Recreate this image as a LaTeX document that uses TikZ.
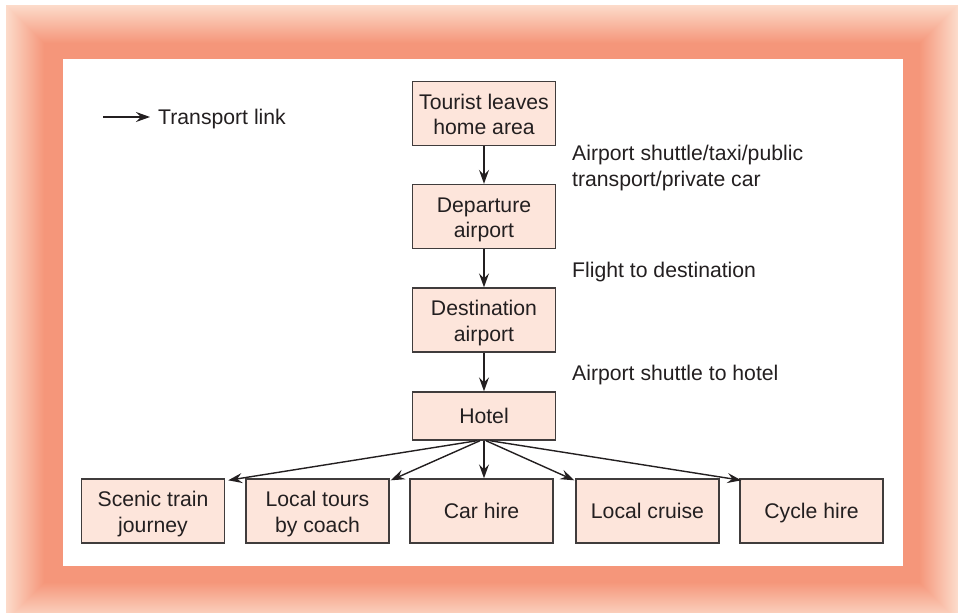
\documentclass[tikz,border=0pt]{standalone}
\usepackage{fontspec}
\setmainfont{Liberation Sans}
\usetikzlibrary{arrows.meta}
\definecolor{rimsalmon}{RGB}{245,150,122}
\definecolor{rimpeach}{RGB}{252,219,202}
\definecolor{boxfill}{RGB}{253,229,219}
\definecolor{boxline}{RGB}{64,60,60}
\definecolor{ink}{RGB}{35,31,32}
\tikzset{
  stage/.style={draw=boxline, line width=1.4pt, fill=boxfill, align=center,
    minimum width=143pt, minimum height=64pt, inner sep=2pt, text=ink,
    text height=15.2pt, text depth=0pt,
    font=\fontsize{21.2}{25.5}\selectfont},
  twoline/.style={text height=42.2pt},
  note/.style={anchor=west, align=left, inner sep=0pt, text=ink,
    font=\fontsize{21.2}{25.5}\selectfont},
  link/.style={draw=ink, line width=1.4pt,
    -{Stealth[length=14pt,width=10pt,inset=5pt]}},
}
\begin{document}
\begin{tikzpicture}[x=1pt,y=-1pt]
\useasboundingbox (0,0) rectangle (961,613);
% glowing frame: nested rectangles fading from peach to salmon
\foreach \i in {0,...,44}{
  \pgfmathsetmacro{\p}{min(100,\i*100/38)}
  \fill[rimsalmon!\p!rimpeach] (6+\i,5+\i) rectangle (958-\i,621-\i);
}
\fill[white] (63,59) rectangle (903,566);

% legend
\coordinate (legA) at (103,117);
\coordinate (legB) at (150,117);
\draw[link] (legA) -- (legB);
\node[note] (legtext) at (158,119) {Transport link};

% main chain
\node[stage, twoline] (home) at (484,113.5) {Tourist leaves\\home area};
\node[stage, twoline] (dep)  at (484,216.5) {Departure\\airport};
\node[stage, twoline] (dest) at (484,320)   {Destination\\airport};
\node[stage, minimum height=48pt] (hotel) at (484,416) {Hotel};

\draw[link] (home) -- (dep);
\draw[link] (dep) -- (dest);
\draw[link] (dest) -- (hotel);

\node[note] (l1) at (572,168) {Airport shuttle/taxi/public\\transport/private car};
\node[note] (l2) at (572,272) {Flight to destination};
\node[note] (l3) at (572,375) {Airport shuttle to hotel};

% activities at the destination
\node[stage, twoline] (train)  at (153,511)   {Scenic train\\journey};
\node[stage, twoline] (coach)  at (317.5,511) {Local tours\\by coach};
\node[stage] (car)    at (481.5,511) {Car hire};
\node[stage] (cruise) at (647.5,511) {Local cruise};
\node[stage] (cycle)  at (811.5,511) {Cycle hire};

\draw[link] ([xshift=-7pt]hotel.south) -- ([xshift=3pt,yshift=-2pt]train.north east);
\draw[link] ([xshift=-4pt]hotel.south) -- ([xshift=1pt,yshift=-2pt]coach.north east);
\draw[link] (hotel.south) -- (hotel.south |- car.north);
\draw[link] ([xshift=2pt]hotel.south) -- ([xshift=-1pt,yshift=-2pt]cruise.north west);
\draw[link] ([xshift=6pt]hotel.south) -- ([xshift=2pt,yshift=-2pt]cycle.north west);
\end{tikzpicture}
\end{document}
